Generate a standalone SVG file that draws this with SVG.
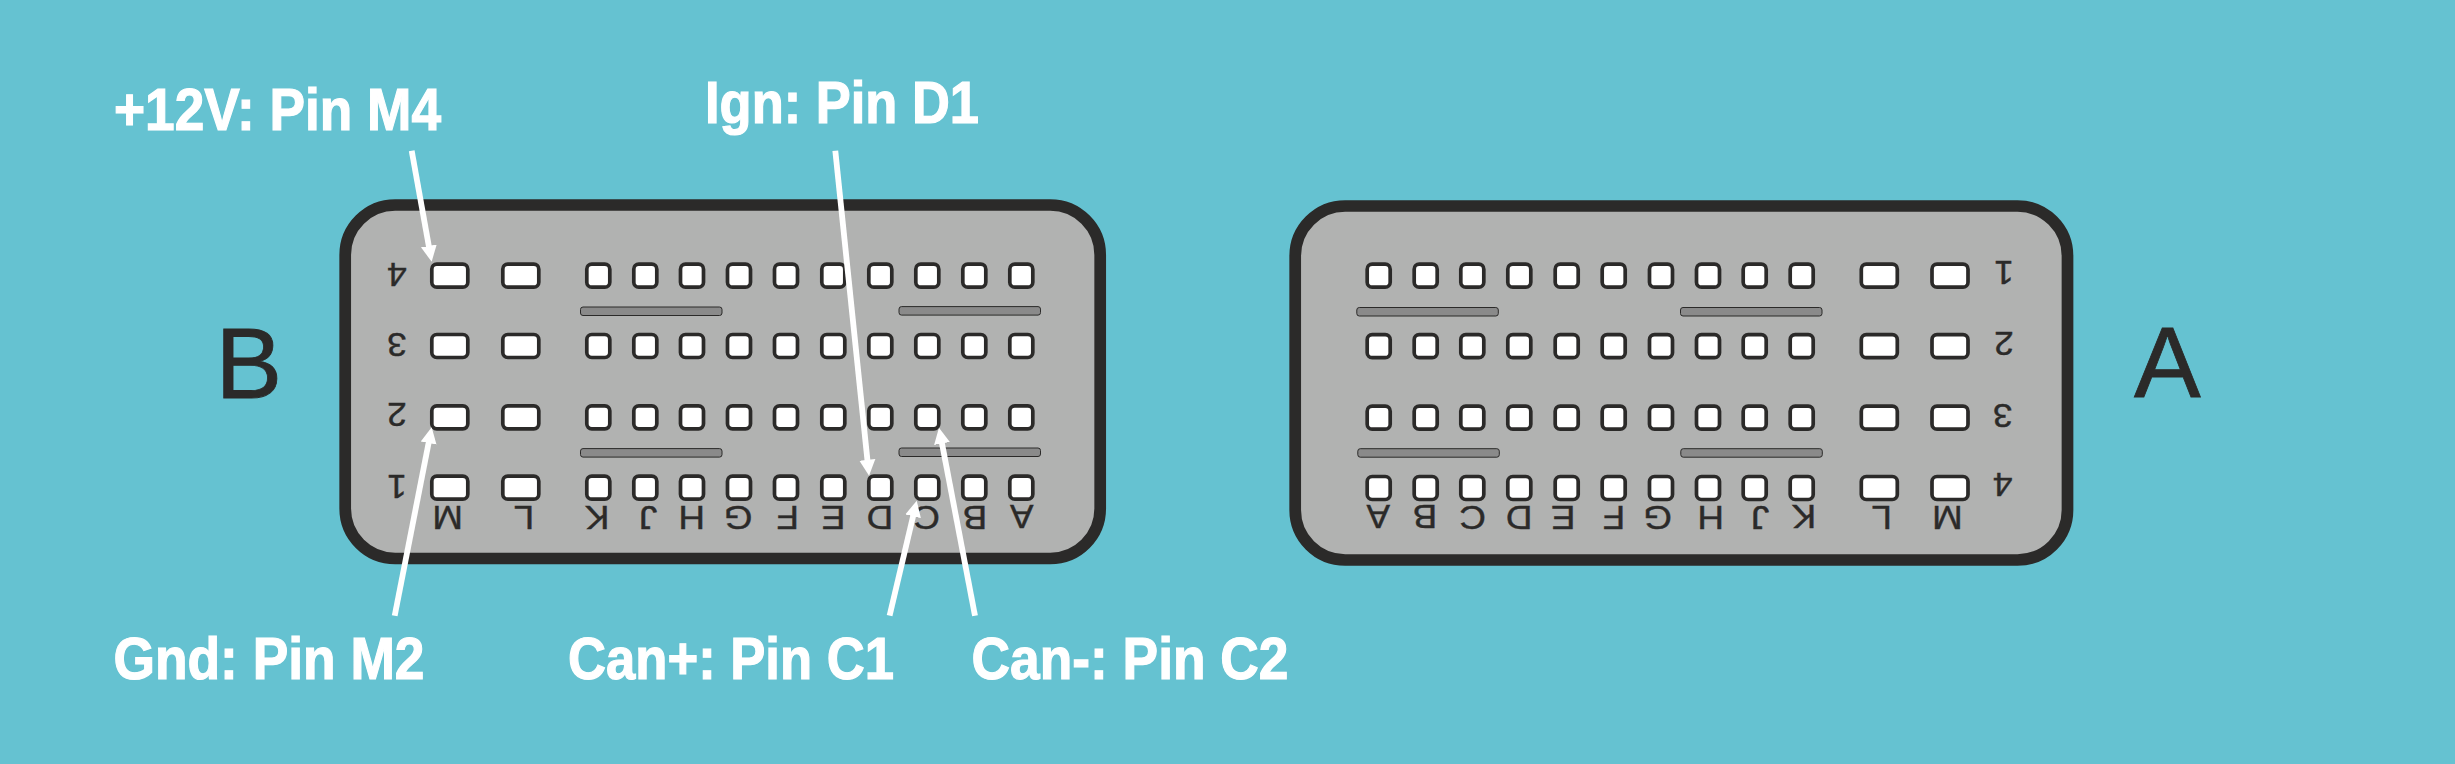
<svg xmlns="http://www.w3.org/2000/svg" width="2455" height="764" viewBox="0 0 2455 764">
<style>
.body{fill:#b1b2b1;stroke:#2b2a29;stroke-width:11.7}
.pin{fill:#fff;stroke:#2b2a29;stroke-width:3.7}
.bar{fill:#8a8a8a;stroke:#2b2a29;stroke-width:1}
.mk{font-family:"Liberation Sans",Arial,sans-serif;font-size:33.5px;fill:#2b2a29;stroke:#2b2a29;stroke-width:.4;text-anchor:middle}
.big{font-family:"Liberation Sans",Arial,sans-serif;font-size:100px;fill:#2b2a29;stroke:#2b2a29;stroke-width:.8}
.lbl{font-family:"Liberation Sans",Arial,sans-serif;font-weight:700;font-size:60px;fill:#fff;stroke:#fff;stroke-width:1.2}
.wire{stroke:#fff;stroke-width:5.8;fill:none;marker-end:url(#head)}
</style>
<defs>
<marker id="head" markerUnits="userSpaceOnUse" markerWidth="17" markerHeight="18" refX="1" refY="9" orient="auto"><path d="M0,1 L16,9 L0,17 z" fill="#fff"/></marker>
<rect id="s" class="pin" x="-11.5" y="-11.5" width="23" height="23" rx="5"/>
<rect id="w" class="pin" x="-18" y="-11.5" width="36" height="23" rx="5"/>
</defs>
<rect id="background" x="0" y="0" width="2455" height="764" fill="#65c2d1"/>
<g id="connector-B">
<rect class="body" x="345.2" y="205" width="755" height="353.5" rx="50"/>
<rect class="bar" x="580.5" y="307" width="141.5" height="8.5" rx="2.5"/>
<rect class="bar" x="899" y="306.6" width="141.5" height="8.5" rx="2.5"/>
<rect class="bar" x="580.5" y="448.6" width="141.5" height="8.5" rx="2.5"/>
<rect class="bar" x="899" y="448" width="141.5" height="8.5" rx="2.5"/>
<use href="#w" x="449.8" y="275.7"/><use href="#w" x="520.8" y="275.7"/><use href="#s" x="598.3" y="275.7"/><use href="#s" x="645.3" y="275.7"/><use href="#s" x="692" y="275.7"/><use href="#s" x="739" y="275.7"/><use href="#s" x="786" y="275.7"/><use href="#s" x="833.3" y="275.7"/><use href="#s" x="880.3" y="275.7"/><use href="#s" x="927.3" y="275.7"/><use href="#s" x="974.3" y="275.7"/><use href="#s" x="1021.3" y="275.7"/>
<use href="#w" x="449.8" y="346"/><use href="#w" x="520.8" y="346"/><use href="#s" x="598.3" y="346"/><use href="#s" x="645.3" y="346"/><use href="#s" x="692" y="346"/><use href="#s" x="739" y="346"/><use href="#s" x="786" y="346"/><use href="#s" x="833.3" y="346"/><use href="#s" x="880.3" y="346"/><use href="#s" x="927.3" y="346"/><use href="#s" x="974.3" y="346"/><use href="#s" x="1021.3" y="346"/>
<use href="#w" x="449.8" y="417.3"/><use href="#w" x="520.8" y="417.3"/><use href="#s" x="598.3" y="417.3"/><use href="#s" x="645.3" y="417.3"/><use href="#s" x="692" y="417.3"/><use href="#s" x="739" y="417.3"/><use href="#s" x="786" y="417.3"/><use href="#s" x="833.3" y="417.3"/><use href="#s" x="880.3" y="417.3"/><use href="#s" x="927.3" y="417.3"/><use href="#s" x="974.3" y="417.3"/><use href="#s" x="1021.3" y="417.3"/>
<use href="#w" x="449.8" y="487.7"/><use href="#w" x="520.8" y="487.7"/><use href="#s" x="598.3" y="487.7"/><use href="#s" x="645.3" y="487.7"/><use href="#s" x="692" y="487.7"/><use href="#s" x="739" y="487.7"/><use href="#s" x="786" y="487.7"/><use href="#s" x="833.3" y="487.7"/><use href="#s" x="880.3" y="487.7"/><use href="#s" x="927.3" y="487.7"/><use href="#s" x="974.3" y="487.7"/><use href="#s" x="1021.3" y="487.7"/>
<text class="mk" transform="translate(447.7 506) rotate(180) scale(1.1 1)">M</text>
<text class="mk" transform="translate(524 506) rotate(180) scale(1.1 1)">L</text>
<text class="mk" transform="translate(597.3 506) rotate(180) scale(1.1 1)">K</text>
<text class="mk" transform="translate(648 506) rotate(180) scale(1.1 1)">J</text>
<text class="mk" transform="translate(691.7 506) rotate(180) scale(1.1 1)">H</text>
<text class="mk" transform="translate(738.3 506) rotate(180) scale(1.1 1)">G</text>
<text class="mk" transform="translate(787.7 506) rotate(180) scale(1.1 1)">F</text>
<text class="mk" transform="translate(833.3 506) rotate(180) scale(1.1 1)">E</text>
<text class="mk" transform="translate(880 506) rotate(180) scale(1.1 1)">D</text>
<text class="mk" transform="translate(926.7 506) rotate(180) scale(1.1 1)">C</text>
<text class="mk" transform="translate(975 506) rotate(180) scale(1.1 1)">B</text>
<text class="mk" transform="translate(1021.7 505) rotate(180) scale(1.05 1)">A</text>
<text class="mk" transform="translate(397 263.3) rotate(180) scale(1.05 1)">4</text>
<text class="mk" transform="translate(397 332.5) rotate(180) scale(1.05 1)">3</text>
<text class="mk" transform="translate(397 403.3) rotate(180) scale(1.05 1)">2</text>
<text class="mk" transform="translate(397 475) rotate(180) scale(1.05 1)">1</text>
</g>
<g id="connector-A">
<rect class="body" x="1295.2" y="206" width="772.3" height="354" rx="50"/>
<rect class="bar" x="1356.8" y="307.5" width="141.5" height="8.5" rx="2.5"/>
<rect class="bar" x="1680.5" y="307.5" width="141.5" height="8.5" rx="2.5"/>
<rect class="bar" x="1357.8" y="448.7" width="141.5" height="8.5" rx="2.5"/>
<rect class="bar" x="1680.8" y="448.7" width="141.5" height="8.5" rx="2.5"/>
<use href="#s" x="1378.7" y="275.7"/><use href="#s" x="1425.7" y="275.7"/><use href="#s" x="1472.3" y="275.7"/><use href="#s" x="1519.3" y="275.7"/><use href="#s" x="1566.7" y="275.7"/><use href="#s" x="1613.7" y="275.7"/><use href="#s" x="1661" y="275.7"/><use href="#s" x="1708" y="275.7"/><use href="#s" x="1754.7" y="275.7"/><use href="#s" x="1801.7" y="275.7"/><use href="#w" x="1879.3" y="275.7"/><use href="#w" x="1950" y="275.7"/>
<use href="#s" x="1378.7" y="346.2"/><use href="#s" x="1425.7" y="346.2"/><use href="#s" x="1472.3" y="346.2"/><use href="#s" x="1519.3" y="346.2"/><use href="#s" x="1566.7" y="346.2"/><use href="#s" x="1613.7" y="346.2"/><use href="#s" x="1661" y="346.2"/><use href="#s" x="1708" y="346.2"/><use href="#s" x="1754.7" y="346.2"/><use href="#s" x="1801.7" y="346.2"/><use href="#w" x="1879.3" y="346.2"/><use href="#w" x="1950" y="346.2"/>
<use href="#s" x="1378.7" y="417.7"/><use href="#s" x="1425.7" y="417.7"/><use href="#s" x="1472.3" y="417.7"/><use href="#s" x="1519.3" y="417.7"/><use href="#s" x="1566.7" y="417.7"/><use href="#s" x="1613.7" y="417.7"/><use href="#s" x="1661" y="417.7"/><use href="#s" x="1708" y="417.7"/><use href="#s" x="1754.7" y="417.7"/><use href="#s" x="1801.7" y="417.7"/><use href="#w" x="1879.3" y="417.7"/><use href="#w" x="1950" y="417.7"/>
<use href="#s" x="1378.7" y="488"/><use href="#s" x="1425.7" y="488"/><use href="#s" x="1472.3" y="488"/><use href="#s" x="1519.3" y="488"/><use href="#s" x="1566.7" y="488"/><use href="#s" x="1613.7" y="488"/><use href="#s" x="1661" y="488"/><use href="#s" x="1708" y="488"/><use href="#s" x="1754.7" y="488"/><use href="#s" x="1801.7" y="488"/><use href="#w" x="1879.3" y="488"/><use href="#w" x="1950" y="488"/>
<text class="mk" transform="translate(1378.3 505) rotate(180) scale(1.05 1)">A</text>
<text class="mk" transform="translate(1425 505) rotate(180) scale(1.1 1)">B</text>
<text class="mk" transform="translate(1472.7 506) rotate(180) scale(1.1 1)">C</text>
<text class="mk" transform="translate(1519.3 506) rotate(180) scale(1.1 1)">D</text>
<text class="mk" transform="translate(1563.3 506) rotate(180) scale(1.1 1)">E</text>
<text class="mk" transform="translate(1614 506) rotate(180) scale(1.1 1)">F</text>
<text class="mk" transform="translate(1657.7 506) rotate(180) scale(1.1 1)">G</text>
<text class="mk" transform="translate(1710.7 506) rotate(180) scale(1.1 1)">H</text>
<text class="mk" transform="translate(1760 506) rotate(180) scale(1.1 1)">J</text>
<text class="mk" transform="translate(1804 505) rotate(180) scale(1.1 1)">K</text>
<text class="mk" transform="translate(1881.7 506) rotate(180) scale(1.1 1)">L</text>
<text class="mk" transform="translate(1947.3 506) rotate(180) scale(1.1 1)">M</text>
<text class="mk" transform="translate(2004 261) rotate(180) scale(1.05 1)">1</text>
<text class="mk" transform="translate(2004 332) rotate(180) scale(1.05 1)">2</text>
<text class="mk" transform="translate(2002.7 403.5) rotate(180) scale(1.05 1)">3</text>
<text class="mk" transform="translate(2002.7 473.3) rotate(180) scale(1.05 1)">4</text>
</g>
<g id="title-B"><text class="big" x="215.4" y="397.5">B</text></g>
<g id="title-A"><text class="big" x="2134" y="397">A</text></g>
<g id="label-12v"><text class="lbl" x="114" y="130" textLength="327" lengthAdjust="spacingAndGlyphs">+12V: Pin M4</text></g>
<g id="label-ign"><text class="lbl" x="705" y="122.7" textLength="274" lengthAdjust="spacingAndGlyphs">Ign: Pin D1</text></g>
<g id="label-gnd"><text class="lbl" x="113.5" y="679" textLength="311" lengthAdjust="spacingAndGlyphs">Gnd: Pin M2</text></g>
<g id="label-canp"><text class="lbl" x="568" y="679" textLength="326" lengthAdjust="spacingAndGlyphs">Can+: Pin C1</text></g>
<g id="label-canm"><text class="lbl" x="971.5" y="679" textLength="317" lengthAdjust="spacingAndGlyphs">Can-: Pin C2</text></g>
<g id="connectors">
<line class="wire" x1="411.7" y1="150.7" x2="429" y2="246.9"/>
<line class="wire" x1="394.7" y1="615.7" x2="428.8" y2="442"/>
<line class="wire" x1="835.3" y1="150.7" x2="867.5" y2="460.8"/>
<line class="wire" x1="889.6" y1="615.7" x2="913.3" y2="515.3"/>
<line class="wire" x1="975" y1="615.7" x2="941.8" y2="442.4"/>
</g>
</svg>
